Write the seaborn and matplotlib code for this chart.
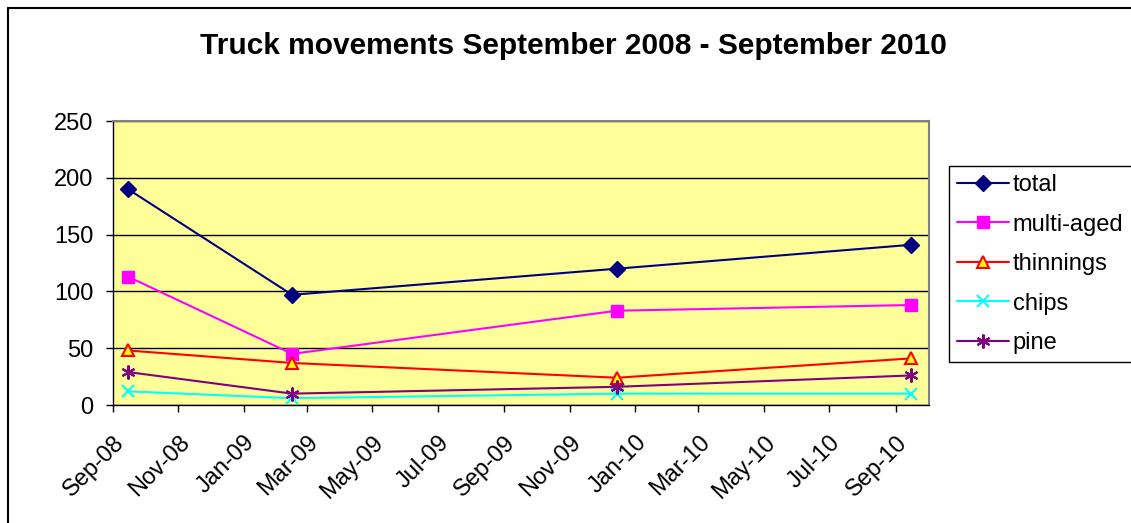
import pandas as pd
import matplotlib
matplotlib.use("Agg")
import matplotlib.pyplot as plt
import matplotlib.dates as mdates
from matplotlib.lines import Line2D
import seaborn as sns

# --- data ---
dates = ["2008-09-15", "2009-02-15", "2009-12-15", "2010-09-15"]
total = [190, 97, 120, 141]
multi_aged = [113, 45, 83, 88]
thinnings = [48, 37, 24, 41]
chips = [12, 6, 10, 10]
pine = [29, 10, 16, 26]

series_names = ["total", "multi-aged", "thinnings", "chips", "pine"]
series_values = [total, multi_aged, thinnings, chips, pine]

styles = {
    "total": dict(color="#000080", marker="D", markersize=8, mfc="#000080", mec="#000080"),
    "multi-aged": dict(color="#FF00FF", marker="s", markersize=8, mfc="#FF00FF", mec="#FF00FF"),
    "thinnings": dict(color="#FF0000", marker="^", markersize=9, mfc="#FFFF00", mec="#FF0000", mew=1.5),
    "chips": dict(color="#00FFFF", marker="x", markersize=9, mfc="#00FFFF", mec="#00FFFF", mew=1.5),
    "pine": dict(color="#800080", marker=(6, 2, 0), markersize=10, mfc="#800080", mec="#800080", mew=1.5),
}

rows = []
for name, vals in zip(series_names, series_values):
    for d, v in zip(dates, vals):
        rows.append({"date": pd.Timestamp(d), "value": v, "series": name})
df = pd.DataFrame(rows)

sns.set_style("white")
plt.rcParams["font.family"] = ["Liberation Sans", "DejaVu Sans"]
plt.rcParams["text.color"] = "black"
plt.rcParams["xtick.color"] = "black"
plt.rcParams["ytick.color"] = "black"

fig = plt.figure(figsize=(11.31, 5.23), dpi=100)
ax = fig.add_axes([113 / 1131, 1 - 405 / 523, (929 - 113) / 1131, (405 - 121) / 523])
ax.set_facecolor("#FFFF99")

for name in series_names:
    sub = df[df["series"] == name]
    st = styles[name]
    sns.lineplot(
        data=sub, x="date", y="value", ax=ax,
        color=st["color"], linewidth=1.5, marker=st["marker"],
        markersize=st["markersize"], markerfacecolor=st["mfc"],
        markeredgecolor=st["mec"], markeredgewidth=st.get("mew", 1),
        label=name, legend=False, zorder=3,
    )

ax.set_ylim(0, 250)
ax.set_yticks([0, 50, 100, 150, 200, 250])
ax.set_xlim(pd.Timestamp("2008-09-01"), pd.Timestamp("2010-10-02"))
ax.xaxis.set_major_locator(mdates.MonthLocator(bymonth=[1, 3, 5, 7, 9, 11]))
ax.xaxis.set_major_formatter(mdates.DateFormatter("%b-%y"))
ax.grid(axis="y", color="black", linewidth=1)
ax.set_axisbelow(True)
ax.set_xlabel("")
ax.set_ylabel("")

for s in ["left", "bottom"]:
    ax.spines[s].set_color("black")
    ax.spines[s].set_linewidth(1)
for s in ["top", "right"]:
    ax.spines[s].set_color("#808080")
    ax.spines[s].set_linewidth(1.5)

ax.tick_params(axis="both", which="major", direction="out", length=5, width=1,
               color="black", labelsize=17, labelcolor="black", left=True, bottom=True)
ax.tick_params(axis="y", pad=9)
ax.tick_params(axis="x", pad=14)
for lbl in ax.get_xticklabels():
    lbl.set_rotation(45)
    lbl.set_ha("right")
    lbl.set_va("top")
    lbl.set_rotation_mode("anchor")

fig.suptitle("Truck movements September 2008 - September 2010", x=573 / 1131, y=1 - 46 / 523,
             va="center", fontsize=21.5, fontweight="bold", color="black")

# legend
handles = []
for name in series_names:
    st = styles[name]
    handles.append(Line2D([], [], color=st["color"], linewidth=1.5, marker=st["marker"],
                          markersize=st["markersize"], markerfacecolor=st["mfc"],
                          markeredgecolor=st["mec"], markeredgewidth=st.get("mew", 1)))
leg = fig.legend(handles, series_names, loc="upper left",
                 bbox_to_anchor=(949 / 1131, 1 - 166 / 523), fontsize=17,
                 frameon=True, fancybox=False, edgecolor="black", framealpha=1,
                 handlelength=2.2, handletextpad=0.15, labelspacing=0.74,
                 borderpad=0.35, borderaxespad=0)
leg.get_frame().set_linewidth(1)

# chart-area border (left and top visible)
fig.add_artist(Line2D([8 / 1131, 8 / 1131], [0, 1 - 8 / 523], color="black", linewidth=1.5,
                      transform=fig.transFigure))
fig.add_artist(Line2D([8 / 1131, 1], [1 - 8 / 523, 1 - 8 / 523], color="black", linewidth=1.5,
                      transform=fig.transFigure))

fig.savefig("out.png", dpi=100)
